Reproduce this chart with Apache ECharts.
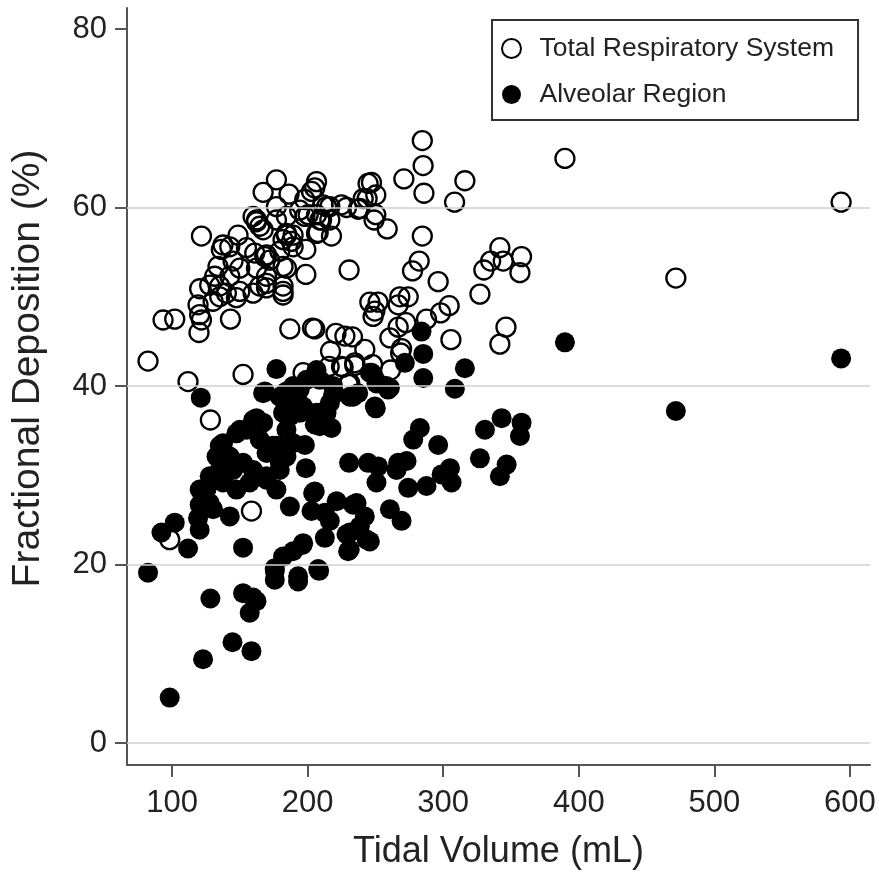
<!DOCTYPE html>
<html>
<head>
<meta charset="utf-8">
<script src="https://cdn.jsdelivr.net/npm/echarts@6/dist/echarts.min.js"></script>
<style>
html,body{margin:0;padding:0;background:#fff;}
#chart{width:879px;height:875px;}
</style>
</head>
<body>
<div id="chart"></div>
<script>
// Tidal volume (mL) vs fractional deposition (%)
var totalRespiratory = [
[593.5,60.6],[471.6,52.1],[389.8,65.5],
[284.6,67.5],[285.2,64.7],[285.8,61.6],[271,63.2],[316,63.0],[308.4,60.6],
[247.1,62.8],[250.3,61.4],[243.9,61.0],[250.3,59.2],[249,58.6],[258.7,57.6],
[284.6,56.8],[282.3,54.0],[277.4,52.9],[296.3,51.7],[327.1,50.3],[330,53.0],[335,54.0],[341.8,55.5],[344.3,54.0],[357.8,54.5],[356.6,52.7],[346.3,46.6],[341.8,44.7],[305.7,45.2],[304.4,49.0],[298.1,48.2],[287.7,47.5],[274.2,50.0],[268,50.0],[266.8,49.1],[272.5,47.1],[266.8,46.6],[252,49.4],[245.9,49.4],[249.6,48.4],[248.3,47.8],[230.6,53.0],[198.7,52.5],[198.7,55.3],[186.9,46.4],[203.6,46.5],[205.3,46.4],[220.9,45.9],[227.5,45.6],[233.1,45.5],[216.9,43.9],[242.2,44.1],[226.2,42.1],[234.8,42.3],[261.2,41.8],[260.7,45.4],[269.3,44.2],[268.6,43.7],[196.7,41.5],[215.9,42.2],[229.9,40.2],[152.4,41.3],
[177,63.1],[167.2,61.7],[186.3,61.5],[206.6,62.9],[205.3,62.2],[202.9,61.8],[197.9,60.9],[177,60.1],[211.4,60.3],[216.4,60.1],[225,60.3],[228.7,60.0],[237.3,59.8],[241,61.0],[206.6,59.2],[198,59.0],[209,58.6],[216.4,58.6],[207.8,57.2],[217.6,56.8],[162.3,58.6],[167.2,57.5],[184.4,56.9],[188.1,56.2],[168.4,54.5],[181.9,53.4],[169.7,51.5],[181.9,50.6],[159.8,50.4],
[121.7,56.8],[137.6,55.8],[136.4,55.3],[148.7,56.9],[162.3,58.4],[164.7,57.9],[184.4,57.1],[189.3,56.9],
[154.9,55.5],[161,54.9],[169.7,54.7],[181.9,56.4],[179.5,55.1],[133.9,53.4],[145,54.0],[150,53.2],[142.6,52.3],[131.5,52.3],[162.3,53.2],[169.7,52.3],[184.4,53.2],[127.8,51.3],[120.4,50.9],[135.2,51.2],[140.1,50.4],[150,50.6],[147.5,49.9],[135.2,50.0],[130.3,49.5],[164.7,51.2],[169.7,51.0],[181.9,51.2],[181.9,50.2],[119.2,49.1],[120.4,48.0],[121.7,47.4],[119.9,46.0],[93.4,47.4],[102,47.5],[143.1,47.5],[82.3,42.8],[111.8,40.5],[128.3,36.2],[158.6,26.0],[98.3,22.8],[225,42.2],[234.8,42.6],[231.1,40.3],[247.9,42.4],
[142.6,55.6],[172.1,54.1],[189.3,55.6],[177,58.6],[159.8,59.0],[184.4,59.0],[194.2,59.7],[214,60.1],[210.3,58.6],[206.6,57.1],[200.4,59.2],[238.5,59.9],[244.6,62.7]
];
var alveolarRegion = [
[593.5,43.1],[471.6,37.2],[389.8,44.9],
[82.3,19.1],[98.3,5.1],[122.9,9.4],[144.6,11.3],[158.6,10.3],[128.3,16.2],[152.4,16.8],[159.8,16.3],[157.3,14.6],[162.3,15.9],[175.8,19.3],[175.8,18.3],[181.9,20.9],[189.3,21.5],[196.2,22.2],[193,18.1],[208.5,19.3],[152.4,21.9],[111.8,21.8],[92.2,23.6],[102,24.7],[120.4,23.9],[119.2,25.2],[142.6,25.4],[120.4,28.4],[130.3,26.2],[186.9,26.5],[204.1,28.0],[202.9,26.0],[221.4,27.1],[233.6,26.7],[216.4,24.9],[212.7,23.0],[231.1,21.7],[228.7,23.4],[238.5,24.3],[243.5,22.8],
[285.3,43.6],[284,46.1],[285.3,40.9],[316,42.0],[308.6,39.7],[271.7,42.6],[249.6,37.7],[259.4,39.6],[250.8,40.3],[343.1,36.4],[357.8,35.9],[330.8,35.1],[356.6,34.4],[327.1,31.9],[346.8,31.2],[341.8,29.9],[282.8,35.3],[277.9,34.0],[296.3,33.4],[305,30.8],[306.2,29.2],[298.8,30.1],[287.7,28.8],[273,31.6],[265.6,30.6],[274.2,28.6],[266.8,31.4],[252,31.0],[244.6,31.4],[250.8,29.2],[230.6,31.4],[198.7,30.8],[260.7,26.2],[269.3,24.9],[242.2,25.4],[236.1,26.9],[231.1,23.6],[229.9,21.5],[245.9,22.6],[205.3,28.2],[196.7,22.4],[175.8,19.6],[207.8,19.5],[193,18.7],[198,33.4],[217.6,35.3],[205.3,35.7],[250.3,37.5],[177,41.9],[206.6,41.8],[168.4,39.4],[184.4,39.4],[260.7,39.8],[231.1,38.8],[218.8,39.0],[237.3,39.2],[247.1,41.5],[194.2,39.6],[186.9,36.6],[209,37.0],[216.4,38.1],
[121.2,38.7],[162.3,36.4],[137.6,33.6],[147.5,34.7],[132.8,32.1],[135.2,30.6],[130.3,29.7],[120.4,26.7],[127.8,26.9],[209,35.5],[169.7,29.9],[159.8,30.6],[152.4,31.4],[157.3,29.2],[147.5,28.4],[177,28.4],[179.5,31.4],[177,33.3],[184.4,35.1],[189.3,33.6],[154.9,35.1],[164.7,34.0],[167.2,35.9],[169.7,32.5],[142.6,32.1],[137.6,29.2],[125.4,28.4],[196.7,37.7],[206.6,37.0],[233.6,38.8],[191.8,38.8],[189.3,40.0],[209,40.7],[218.8,40.0],[199.2,40.7],[184.4,38.5],
[167.2,39.2],[135.2,33.3],[212.7,25.8],[150,35.1],[159.8,36.2],[127.8,29.9],[145,30.6],[169.7,29.5],[179.5,30.6],[184.4,32.1],[174.5,33.3],[181.9,37.0],[194.2,37.0],[214,37.0],[179.5,38.8],[258.2,40.0],[245.9,41.5]
];
var xTicks = [100, 200, 300, 400, 500, 600];
var yTicks = [0, 20, 40, 60, 80];
var yGridLines = [0, 20, 40, 60];
var seriesNames = ['Total Respiratory System', 'Alveolar Region'];

var FONT = '"Liberation Sans", Arial, sans-serif';
var AXIS_COLOR = '#555';
var chart = echarts.init(document.getElementById('chart'), null, {renderer: 'canvas'});
chart.setOption({
  backgroundColor: '#fff',
  animation: false,
  textStyle: {fontFamily: FONT},
  grid: {left: 127, right: 9, top: 8, bottom: 109, containLabel: false},
  legend: {
    orient: 'vertical',
    left: 492, top: 20,
    padding: [15, 24, 12, 9],
    itemWidth: 40, itemHeight: 19, itemGap: 19,
    borderColor: '#333', borderWidth: 2, backgroundColor: '#fff',
    textStyle: {fontSize: 26.5, color: '#222', fontFamily: FONT, lineHeight: 26, padding: [0, 0, 0, 3]},
    data: [
      {name: seriesNames[0], icon: 'circle', itemStyle: {color: 'rgba(0,0,0,0)', borderColor: '#000', borderWidth: 2}},
      {name: seriesNames[1], icon: 'circle', itemStyle: {color: '#000', borderWidth: 0}}
    ]
  },
  xAxis: {
    type: 'value', min: 66.8, max: 614.8,
    name: 'Tidal Volume (mL)', nameLocation: 'middle', nameGap: 69,
    nameTextStyle: {fontSize: 36, color: '#222', fontFamily: FONT},
    axisLine: {onZero: false, lineStyle: {color: AXIS_COLOR, width: 2}},
    axisTick: {show: true, length: 12, customValues: xTicks, lineStyle: {color: AXIS_COLOR, width: 2}},
    axisLabel: {customValues: xTicks, fontSize: 31, color: '#222', margin: 23, fontFamily: FONT},
    splitLine: {show: false}
  },
  yAxis: {
    type: 'value', min: -2.45, max: 82.35,
    name: 'Fractional Deposition (%)', nameLocation: 'middle', nameGap: 79,
    nameTextStyle: {fontSize: 39, color: '#222', fontFamily: FONT, padding: [0, 0, 0, 36]},
    axisLine: {onZero: false, lineStyle: {color: AXIS_COLOR, width: 2}},
    axisTick: {show: true, length: 12, customValues: yTicks, lineStyle: {color: AXIS_COLOR, width: 2}},
    axisLabel: {customValues: yTicks, fontSize: 31, color: '#222', margin: 20, fontFamily: FONT},
    splitLine: {show: false}
  },
  series: [
    {
      type: 'line', name: 'grid', data: [], z: 0, silent: true,
      markLine: {
        silent: true, symbol: 'none', label: {show: false},
        lineStyle: {color: '#d0d0d0', width: 1.5, type: 'solid'},
        data: yGridLines.map(function (v) { return {yAxis: v}; })
      }
    },
    {
      type: 'scatter', name: seriesNames[0], data: totalRespiratory, z: 2,
      symbol: 'circle', symbolSize: 19,
      itemStyle: {color: 'rgba(0,0,0,0)', borderColor: '#000', borderWidth: 2.3, opacity: 1}
    },
    {
      type: 'scatter', name: seriesNames[1], data: alveolarRegion, z: 3,
      symbol: 'circle', symbolSize: 20,
      itemStyle: {color: '#000', borderWidth: 0, opacity: 1}
    }
  ]
});
</script>
</body>
</html>
